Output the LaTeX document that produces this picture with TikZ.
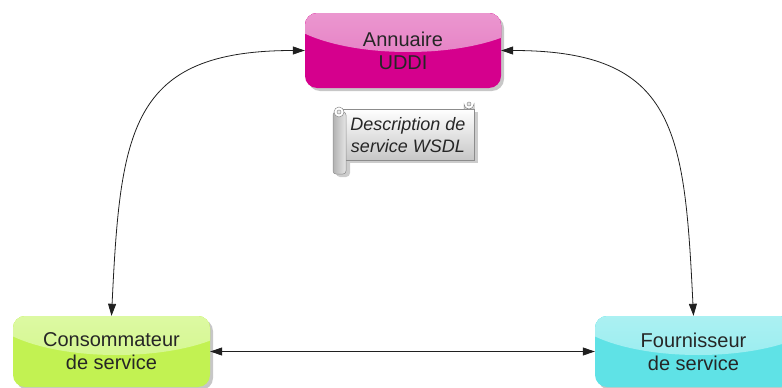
\documentclass[tikz,border=0pt]{standalone}
\usepackage{fontspec}
\setmainfont{Liberation Sans}
\usetikzlibrary{shadows,arrows.meta}
\definecolor{magbase}{HTML}{D5008D}
\definecolor{magtop}{HTML}{F2B2DC}
\definecolor{magbot}{HTML}{E272BE}
\definecolor{grnbase}{HTML}{C2F252}
\definecolor{grntop}{HTML}{E6FBB8}
\definecolor{grnbot}{HTML}{D0F686}
\definecolor{cyabase}{HTML}{5FE2E6}
\definecolor{cyatop}{HTML}{C0F5F6}
\definecolor{cyabot}{HTML}{90EBEE}
\definecolor{linecol}{HTML}{202020}
\tikzset{
  glossbox/.style n args={3}{draw=none, fill=#1, rounded corners=12pt,
    minimum width=197pt, inner sep=0pt, align=center, text=black!85,
    font=\fontsize{20}{23}\selectfont,
    drop shadow={shadow xshift=3pt, shadow yshift=-3pt, fill=black!22, opacity=1},
    path picture={\fill[top color=#2, bottom color=#3]
      ([xshift=5pt,yshift=8pt]path picture bounding box.north) ellipse [x radius=130, y radius=47];}},
  conn/.style={draw=linecol, line width=0.8pt,
    {Triangle[length=12pt,width=8pt]}-{Triangle[length=12pt,width=8pt]}},
}
\begin{document}
\begin{tikzpicture}[x=1pt,y=-1pt]
\useasboundingbox (0,0) rectangle (782,388);
% boxes
\node[glossbox={magbase}{magtop}{magbot}, minimum width=196pt, minimum height=75pt] (a) at (403,50.5) {Annuaire\\UDDI};
\node[glossbox={grnbase}{grntop}{grnbot}, minimum height=71pt] (c) at (111.5,351.5) {Consommateur\\de service};
\node[glossbox={cyabase}{cyatop}{cyabot}, minimum height=71pt] (f) at (693.5,351.5) {Fournisseur\\de service};
% scroll
\fill[black!20] (345,112) rectangle (478,163);
\fill[black!20, rounded corners=4pt] (336,115) rectangle (350,177);
\path[draw=black!45, line width=0.5pt, top color=white, bottom color=black!22] (342,109) rectangle (474,160);
\path[draw=black!45, line width=0.5pt, left color=black!30, right color=black!10, rounded corners=3pt] (333,112) rectangle (346,174);
\draw[black!45, line width=0.5pt, fill=white] (339,112) circle (5);
\draw[black!45, line width=0.5pt, fill=black!8] (339,112) circle (2);
\draw[black!45, line width=0.5pt, top color=white, bottom color=black!15] (464,109) -- (464,104) arc[start angle=180, end angle=0, radius=5] -- (474,109) -- cycle;
\draw[black!45, line width=0.5pt, fill=black!10] (469,104) circle (2);
\node[inner sep=0pt, align=center, text=black!85, font=\fontsize{18}{22}\selectfont\itshape] (d) at (408,134.6) {Description de\\service WSDL};
% connectors
\draw[conn] (c.east) -- (f.west);
\draw[conn] (a.west) .. controls +(-175,0) and +(9,-186) .. (c.north);
\draw[conn] (a.east) .. controls +(175,0) and +(-9,-186) .. (f.north);
\end{tikzpicture}
\end{document}
